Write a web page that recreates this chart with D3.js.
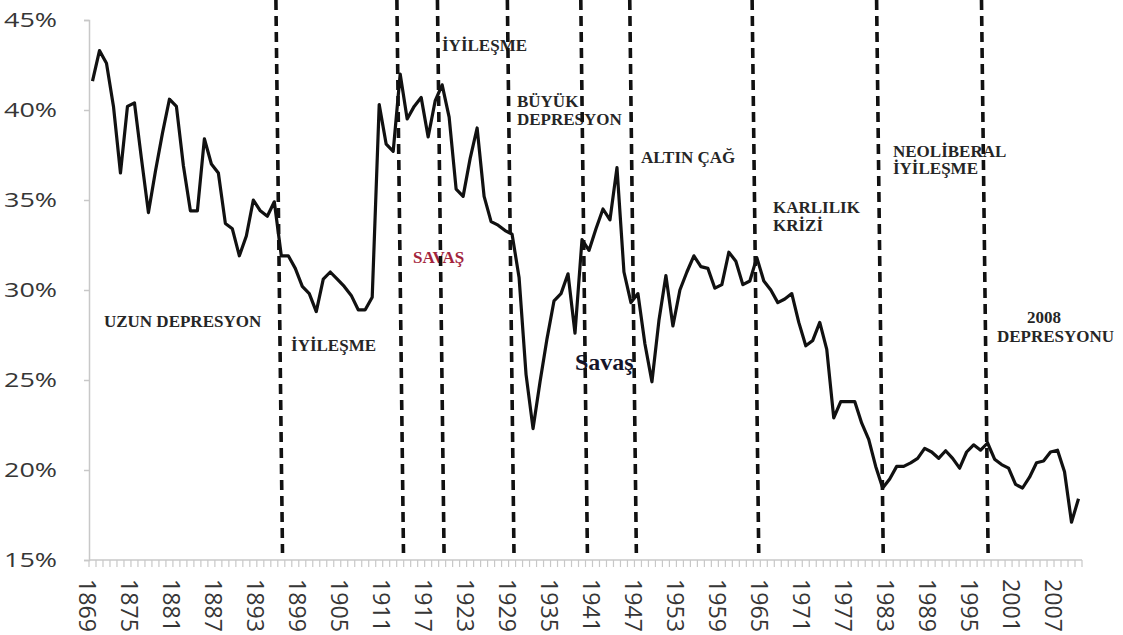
<!DOCTYPE html>
<html>
<head>
<meta charset="utf-8">
<script src="https://cdn.jsdelivr.net/npm/d3@7"></script>
<style>
  html, body { margin: 0; padding: 0; background: #ffffff; }
  svg { display: block; }
</style>
</head>
<body>
<svg id="chart" width="1123" height="635"></svg>
<script>
// ---------------- data ----------------
const firstYear = 1869;
const profitRate = [
  41.6, 43.3, 42.6, 40.2, 36.5, 40.2, 40.4, 37.3, 34.3, 36.6,   // 1869-1878
  38.7, 40.6, 40.2, 36.9, 34.4, 34.4, 38.4, 37.0, 36.5, 33.7,   // 1879-1888
  33.4, 31.9, 33.0, 35.0, 34.4, 34.1, 34.9, 31.9, 31.9, 31.2,   // 1889-1898
  30.2, 29.8, 28.8, 30.6, 31.0, 30.6, 30.2, 29.7, 28.9, 28.9,   // 1899-1908
  29.6, 40.3, 38.1, 37.7, 42.0, 39.5, 40.2, 40.7, 38.5, 40.5,   // 1909-1918
  41.4, 39.6, 35.6, 35.2, 37.3, 39.0, 35.2, 33.8, 33.6, 33.3,   // 1919-1928
  33.1, 30.7, 25.3, 22.3, 24.9, 27.3, 29.4, 29.8, 30.9, 27.6,   // 1929-1938
  32.8, 32.2, 33.4, 34.5, 33.9, 36.8, 31.0, 29.3, 29.8, 27.0,   // 1939-1948
  24.9, 28.3, 30.8, 28.0, 30.0, 31.0, 31.9, 31.3, 31.2, 30.1,   // 1949-1958
  30.3, 32.1, 31.6, 30.3, 30.5, 31.8, 30.5, 30.0, 29.3, 29.5,   // 1959-1968
  29.8, 28.2, 26.9, 27.2, 28.2, 26.7, 22.9, 23.8, 23.8, 23.8,   // 1969-1978
  22.6, 21.7, 20.2, 19.0, 19.5, 20.2, 20.2, 20.4, 20.65, 21.2,  // 1979-1988
  21.0, 20.65, 21.07, 20.65, 20.1, 21.0, 21.4, 21.1, 21.5, 20.6,// 1989-1998
  20.3, 20.1, 19.2, 19.0, 19.6, 20.4, 20.5, 21.0, 21.1, 19.9,   // 1999-2008
  17.1, 18.4                                                     // 2009-2010
];
const years = profitRate.map((_, i) => firstYear + i);

const yTicks = [15, 20, 25, 30, 35, 40, 45];
const xTickLabels = [1869, 1875, 1881, 1887, 1893, 1899, 1905, 1911, 1917, 1923,
  1929, 1935, 1941, 1947, 1953, 1959, 1965, 1971, 1977, 1983, 1989, 1995, 2001, 2007];

// period boundaries (dashed lines), in years
const breakYears = [1895.7, 1913.0, 1918.8, 1928.8, 1939.3, 1946.3, 1963.8, 1981.6, 1996.6];

// period names: [text, year, percent]
const periodLabels = [
  ["UZUN DEPRESYON", 1870.64, 27.94],
  ["İYİLEŞME", 1897.39, 26.61],
  ["İYİLEŞME", 1918.98, 43.28],
  ["BÜYÜK", 1929.70, 40.17],
  ["DEPRESYON", 1929.70, 39.17],
  ["ALTIN ÇAĞ", 1947.44, 37.06],
  ["KARLILIK", 1966.31, 34.28],
  ["KRİZİ", 1966.31, 33.28],
  ["NEOLİBERAL", 1983.47, 37.39],
  ["İYİLEŞME", 1983.47, 36.44],
  ["2008", 2002.63, 28.17],
  ["DEPRESYONU", 1998.34, 27.11]
];
const warLabels = [
  ["SAVAŞ", 1914.83, 31.5],
  ["Savaş", 1938.0, 25.56]
];

// ---------------- layout ----------------
const svg = d3.select("#chart");
const plotLeft = 89, plotRight = 1082, plotTop = 20, plotBottom = 560;

const x = d3.scaleLinear().domain([firstYear - 0.5, years[years.length - 1] + 0.5]).range([plotLeft, plotRight]);
const y = d3.scaleLinear().domain([15, 45]).range([plotBottom, plotTop]);

const axisColor = "#c8c8c8";
const labelColor = "#363636";

// y axis
const yAxis = svg.append("g")
  .attr("transform", `translate(${plotLeft},0)`)
  .call(d3.axisLeft(y).tickValues(yTicks).tickSize(5).tickPadding(27).tickFormat(d => d + "%"));
yAxis.select(".domain").attr("stroke", axisColor).attr("stroke-width", 1.5);
yAxis.selectAll(".tick line").attr("stroke", axisColor).attr("stroke-width", 1.5);
yAxis.selectAll(".tick text")
  .attr("fill", labelColor)
  .attr("font-family", "'Open Sans', sans-serif")
  .attr("font-size", 20.5)
  .attr("textLength", 53)
  .attr("lengthAdjust", "spacingAndGlyphs");

// x axis: baseline, yearly tick marks at category boundaries
const xAxisG = svg.append("g");
xAxisG.append("line")
  .attr("x1", plotLeft).attr("x2", plotRight)
  .attr("y1", plotBottom).attr("y2", plotBottom)
  .attr("stroke", axisColor).attr("stroke-width", 1.5);
const boundaries = d3.range(years.length + 1).map(i => firstYear - 0.5 + i);
xAxisG.selectAll("line.tk").data(boundaries).join("line")
  .attr("class", "tk")
  .attr("x1", d => x(d)).attr("x2", d => x(d))
  .attr("y1", plotBottom).attr("y2", plotBottom + 7)
  .attr("stroke", axisColor).attr("stroke-width", 1.2);
xAxisG.selectAll("text").data(xTickLabels).join("text")
  .attr("transform", d => `translate(${x(d) - 4},${plotBottom + 19}) rotate(90)`)
  .attr("dominant-baseline", "central")
  .attr("text-anchor", "start")
  .attr("fill", labelColor)
  .attr("font-family", "'Open Sans', sans-serif")
  .attr("font-size", 23.5)
  .attr("textLength", 53)
  .attr("lengthAdjust", "spacingAndGlyphs")
  .text(d => d);

// data line
const line = d3.line().x((d, i) => x(years[i])).y(d => y(d));
svg.append("path")
  .datum(profitRate)
  .attr("d", line)
  .attr("fill", "none")
  .attr("stroke", "#111111")
  .attr("stroke-width", 3.2)
  .attr("stroke-linejoin", "round");

// period labels
svg.append("g").selectAll("text").data(periodLabels).join("text")
  .attr("x", d => x(d[1])).attr("y", d => y(d[2]))
  .attr("font-family", "'Liberation Serif', 'Times New Roman', serif")
  .attr("font-weight", "bold")
  .attr("font-size", 17)
  .attr("fill", "#262626")
  .text(d => d[0]);

svg.append("text")
  .attr("x", x(warLabels[0][1])).attr("y", y(warLabels[0][2]))
  .attr("font-family", "'Liberation Serif', 'Times New Roman', serif")
  .attr("font-weight", "bold")
  .attr("font-size", 17)
  .attr("fill", "#a3243c")
  .text(warLabels[0][0]);

svg.append("text")
  .attr("x", x(warLabels[1][1])).attr("y", y(warLabels[1][2]))
  .attr("font-family", "'Liberation Serif', 'Times New Roman', serif")
  .attr("font-weight", "bold")
  .attr("font-size", 24)
  .attr("fill", "#15152a")
  .text(warLabels[1][0]);

// dashed period boundaries (slightly slanted as in the original)
const dashBottom = 553, slant = 3.3;
svg.append("g").selectAll("line").data(breakYears).join("line")
  .attr("x1", d => x(d) - slant).attr("y1", 0)
  .attr("x2", d => x(d) + slant).attr("y2", dashBottom)
  .attr("stroke", "#111111")
  .attr("stroke-width", 3.6)
  .attr("stroke-dasharray", "10,6");
</script>
</body>
</html>
